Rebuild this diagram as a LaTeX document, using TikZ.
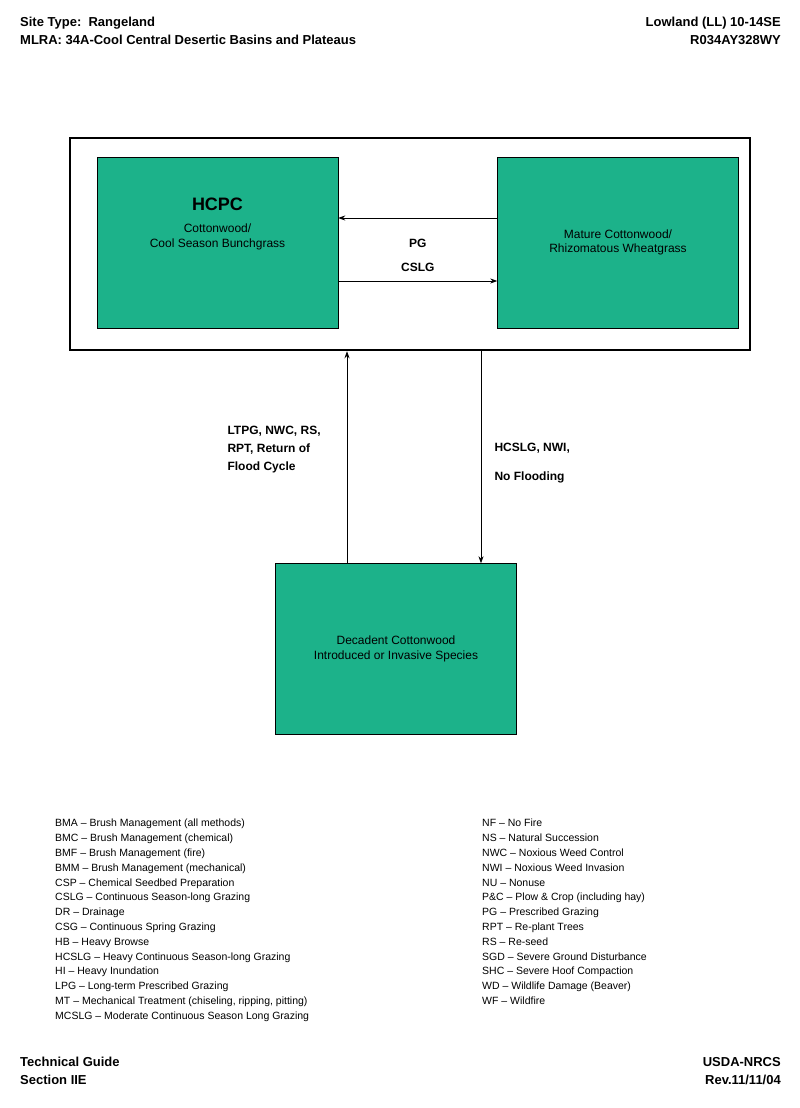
\documentclass[tikz,border=0pt]{standalone}
\usepackage{fontspec}
\setmainfont{Liberation Sans}
\usetikzlibrary{arrows.meta,positioning}
\definecolor{stategreen}{RGB}{28,178,138}
\tikzset{
    statebox/.style={draw=black, fill=stategreen, minimum width=241pt, minimum height=171pt, inner sep=0pt, align=center, font=\fontsize{12}{14.5}\selectfont},
    flow/.style={-{Stealth[length=7pt,width=5pt]}, thick},
    hdr/.style={font=\fontsize{13}{18}\selectfont\bfseries, align=left, inner sep=0pt},
    legend/.style={font=\fontsize{10.5}{14.8}\selectfont, align=left, anchor=north west, inner sep=0pt},
}
\begin{document}
\begin{tikzpicture}[x=1pt,y=-1pt]
    \useasboundingbox[fill=white] (0,0) rectangle (800,1108);
    % Header and footer
    \node[hdr, anchor=north west] (site) at (20,17) {Site Type:\ \ Rangeland\\MLRA: 34A-Cool Central Desertic Basins and Plateaus};
    \node[hdr, anchor=north east, align=right] (site code) at (781,17) {Lowland (LL) 10-14SE\\R034AY328WY};
    \node[hdr, anchor=north west] (guide) at (20,1057) {Technical Guide\\Section IIE};
    \node[hdr, anchor=north east, align=right] (rev) at (781,1057) {USDA-NRCS\\Rev.11/11/04};
    
    % Outer frame of the reference state
    \node[draw, line width=2.5pt, minimum width=680pt, minimum height=212pt, inner sep=0pt] (outer) at (410,244) {};
    
    % States
    \node[statebox] (hcpc) at (217.5,242.5) {\\[-6pt]\fontsize{18}{22}\selectfont\bfseries HCPC\\[8pt]Cottonwood/\\Cool Season Bunchgrass\\[22pt]};
    \node[statebox] (mature) at (618,242.5) {Mature Cottonwood/\\Rhizomatous Wheatgrass};
    \node[statebox] (decadent) at (396,649) {Decadent Cottonwood\\Introduced or Invasive Species};
    
    % Transitions inside the frame
    \draw[flow] ([yshift=-38.5pt]hcpc.east) -- ([yshift=-38.5pt]mature.west) node[midway, above=6pt, font=\fontsize{12}{14}\selectfont\bfseries] (cslg) {CSLG};
    \draw[flow] ([yshift=24.5pt]mature.west) -- ([yshift=24.5pt]hcpc.east) node[midway, below=17pt, font=\fontsize{12}{14}\selectfont\bfseries] (pg) {PG};
    
    % Transitions to and from the decadent state
    \draw[flow] ([xshift=-49pt]decadent.north) -- ([xshift=-49pt]decadent.north |- outer.south) coordinate (up end);
    \draw[flow] ([xshift=85pt]decadent.north |- outer.south) coordinate (down start) -- ([xshift=85pt]decadent.north);
    \node[font=\fontsize{12}{18}\selectfont\bfseries, align=left, anchor=west] (ltpg) at (224,450) {LTPG, NWC, RS,\\RPT, Return of\\Flood Cycle};
    \node[font=\fontsize{12}{29}\selectfont\bfseries, align=left, anchor=west] (hcslg) at (491,463) {HCSLG, NWI,\\No Flooding};
    
    % Legend
    \node[legend] (legend left) at (55,819) {BMA -- Brush Management (all methods)\\
        BMC -- Brush Management (chemical)\\
        BMF -- Brush Management (fire)\\
        BMM -- Brush Management (mechanical)\\
        CSP -- Chemical Seedbed Preparation\\
        CSLG -- Continuous Season-long Grazing\\
        DR -- Drainage\\
        CSG -- Continuous Spring Grazing\\
        HB -- Heavy Browse\\
        HCSLG -- Heavy Continuous Season-long Grazing\\
        HI -- Heavy Inundation\\
        LPG -- Long-term Prescribed Grazing\\
        MT -- Mechanical Treatment (chiseling, ripping, pitting)\\
        MCSLG -- Moderate Continuous Season Long Grazing};
    \node[legend] (legend right) at (482,819) {NF -- No Fire\\
        NS -- Natural Succession\\
        NWC -- Noxious Weed Control\\
        NWI -- Noxious Weed Invasion\\
        NU -- Nonuse\\
        P\&C -- Plow \& Crop (including hay)\\
        PG -- Prescribed Grazing\\
        RPT -- Re-plant Trees\\
        RS -- Re-seed\\
        SGD -- Severe Ground Disturbance\\
        SHC -- Severe Hoof Compaction\\
        WD -- Wildlife Damage (Beaver)\\
        WF -- Wildfire};
\end{tikzpicture}
\end{document}
